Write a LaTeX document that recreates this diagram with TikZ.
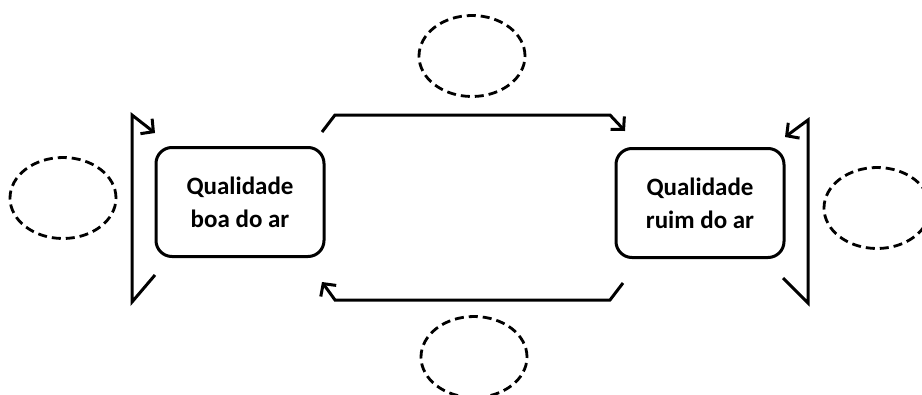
\documentclass[tikz,border=0pt]{standalone}
\usepackage{fontspec}
\setmainfont{Carlito}
\usetikzlibrary{shapes.geometric,arrows.meta}
\begin{document}
\begin{tikzpicture}[x=1pt,y=-1pt,line width=3pt,>={Straight Barb[length=9pt,width=19pt]}]
	\tikzstyle{state} = [draw,rectangle,rounded corners=16pt,minimum width=168pt,minimum height=109pt,align=center,font=\bfseries\fontsize{25}{33}\selectfont]
	\tikzstyle{blank} = [draw,ellipse,line width=2.8pt,dash pattern=on 9pt off 5pt,minimum width=106pt,minimum height=81pt]
	\useasboundingbox (0,0) rectangle (922,394);
	\node[state](good)at(240,202){Qualidade\\boa do ar};
	\node[state](bad)at(700,203){Qualidade\\ruim do ar};
	\node[blank](blank-l)at(63,198){};
	\node[blank](blank-r)at(877,208){};
	\node[blank](blank-t)at(472,56){};
	\node[blank](blank-b)at(474,357){};
	% worsening and improving
	\coordinate(t1)at(322,132); \coordinate(t2)at(335,115);
	\coordinate(t3)at(610,115); \coordinate(t4)at(625,131);
	\coordinate(b1)at(623,283); \coordinate(b2)at(610,300);
	\coordinate(b3)at(335,300); \coordinate(b4)at(322,282);
	\draw[->] (t1) -- (t2) -- (t3) -- (t4);
	\draw[->] (b1) -- (b2) -- (b3) -- (b4);
	% staying in the same state
	\coordinate(l1)at(155,275); \coordinate(l2)at(132,302);
	\coordinate(l3)at(132,115); \coordinate(l4)at(155,133);
	\coordinate(r1)at(783,278); \coordinate(r2)at(808,303);
	\coordinate(r3)at(808,120); \coordinate(r4)at(785,137);
	\draw[->] (l1) -- (l2) -- (l3) -- (l4);
	\draw[->] (r1) -- (r2) -- (r3) -- (r4);
\end{tikzpicture}
\end{document}
